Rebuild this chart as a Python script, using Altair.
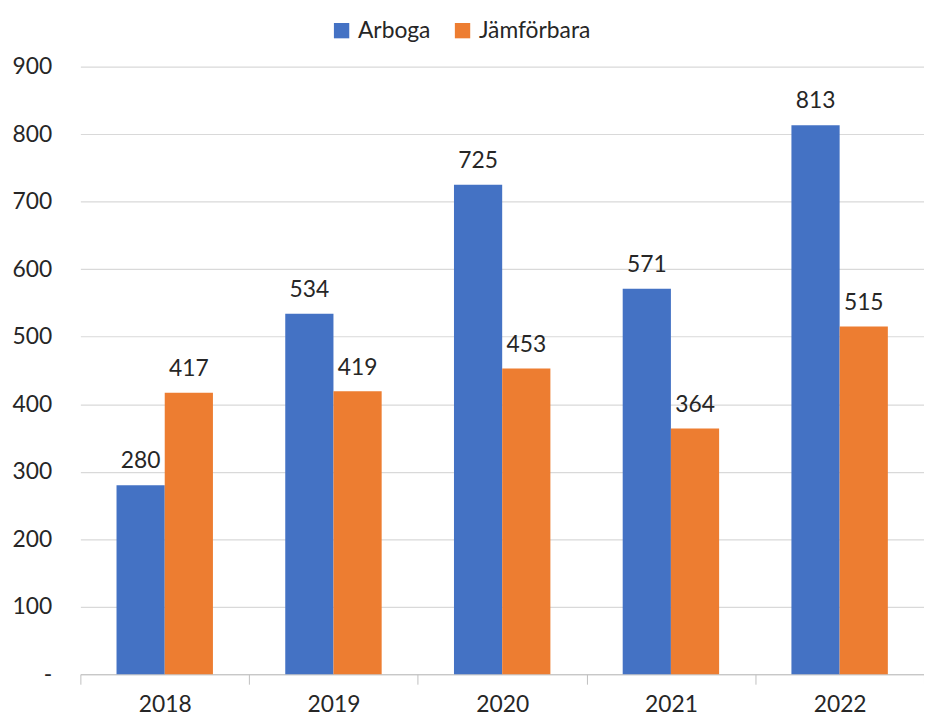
import altair as alt
import pandas as pd

years = ["2018", "2019", "2020", "2021", "2022"]
arboga = [280, 534, 725, 571, 813]
jamforbara = [417, 419, 453, 364, 515]
series = ["Arboga", "Jämförbara"]

rows = []
for i, y in enumerate(years):
    rows.append({"year": y, "series": series[0], "value": arboga[i]})
    rows.append({"year": y, "series": series[1], "value": jamforbara[i]})
df = pd.DataFrame(rows)

FONT = "Lato"
TXT = "#262626"
FS = 23

x = alt.X("year:N", title=None, sort=years,
          scale=alt.Scale(paddingInner=0, paddingOuter=0),
          axis=alt.Axis(labelAngle=0, labelFontSize=FS, labelFont=FONT, labelColor=TXT,
                        domainColor="#bfbfbf", tickColor="#bfbfbf", tickBand="extent",
                        tickSize=10, labelPadding=10, grid=False))
xo = alt.XOffset("series:N", sort=series, scale=alt.Scale(paddingInner=0, paddingOuter=0.75))
y = alt.Y("value:Q", title=None,
          scale=alt.Scale(domain=[0, 900], nice=False),
          axis=alt.Axis(values=[0, 100, 200, 300, 400, 500, 600, 700, 800, 900],
                        labelExpr="datum.value == 0 ? '-' : datum.label",
                        labelFontSize=FS, labelFont=FONT, labelColor=TXT,
                        labelPadding=29, domain=False, ticks=False,
                        gridColor="#d9d9d9", gridWidth=1.2))
color = alt.Color("series:N", sort=series, title=None,
                  scale=alt.Scale(domain=series, range=["#4472C4", "#ED7D31"]),
                  legend=alt.Legend(orient="none", legendX=252, legendY=-48,
                                    direction="horizontal", symbolType="square",
                                    symbolSize=240, symbolStrokeWidth=0,
                                    labelFontSize=FS, labelFont=FONT, labelColor=TXT,
                                    columnPadding=20, symbolOffset=0, labelOffset=5))

base = alt.Chart(df)
bars = base.mark_bar().encode(x=x, xOffset=xo, y=y, color=color)
labels = base.mark_text(baseline="alphabetic", dy=-17, fontSize=FS, font=FONT, color=TXT).encode(
    x=x, xOffset=xo, y=y, text="value:Q")

chart = (bars + labels).properties(
    width=851, height=613,
    autosize=alt.AutoSizeParams(type="none"),
    padding={"left": 73, "top": 56, "right": 0, "bottom": 40},
).configure_view(stroke=None)

chart.save("out.html", embed_options={"renderer": "svg", "actions": False})
